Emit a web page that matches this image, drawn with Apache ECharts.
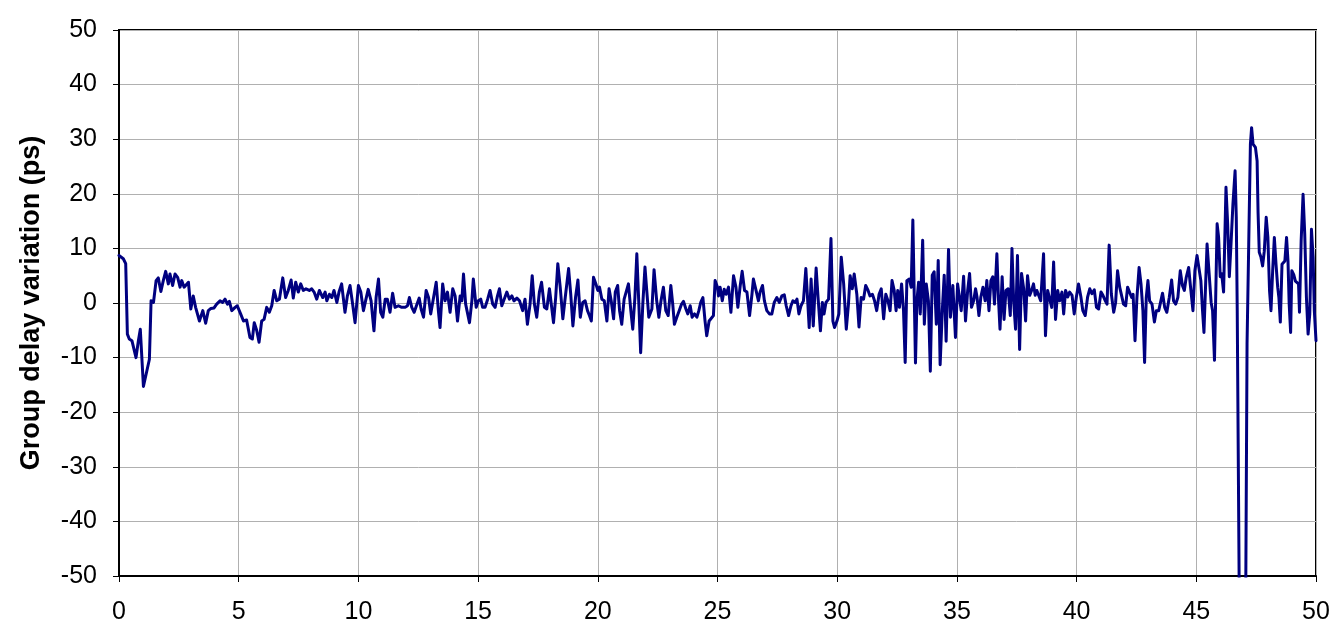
<!DOCTYPE html>
<html>
<head>
<meta charset="utf-8">
<script src="https://cdn.jsdelivr.net/npm/echarts@6/dist/echarts.min.js"></script>
<style>html,body{margin:0;padding:0;background:#fff}#c{width:1341px;height:639px}</style>
</head>
<body>
<div id="c"></div>
<script>
const xTicks = [0,5,10,15,20,25,30,35,40,45,50];
const yTicks = [-50,-40,-30,-20,-10,0,10,20,30,40,50];
const yAxisTitle = 'Group delay variation (ps)';

const dist = [
0,0.18,0.28,0.35,0.43,0.54,0.71,0.81,0.89,1.02,1.16,1.27,1.34,1.44,1.55,1.64,1.75,1.85,1.95,2.06,2.13,2.24,2.34,2.45,2.55,2.62,2.72,2.8,2.9,3.0,3.1,3.2,3.36,3.5,3.62,3.73,3.84,3.97,4.08,4.22,4.33,4.43,4.53,4.61,4.71,4.85,4.94,5.08,5.2,5.33,5.47,5.57,5.65,5.75,5.85,5.96,6.06,6.17,6.28,6.38,6.48,6.59,6.7,6.84,6.96,7.07,7.19,7.28,7.38,7.49,7.59,7.7,7.81,7.95,8.05,8.15,8.26,8.37,
8.4,8.51,8.61,8.68,8.79,8.89,8.98,9.1,9.19,9.3,9.44,9.54,9.65,9.75,9.86,10.0,10.1,10.21,10.3,10.41,10.53,10.65,10.74,10.84,10.93,11.02,11.12,11.21,11.32,11.43,11.53,11.67,11.81,11.95,12.05,12.13,12.23,12.33,12.45,12.54,12.62,12.72,12.83,12.93,13.02,13.14,13.25,13.34,13.41,13.52,13.62,13.72,13.83,13.94,14.04,14.14,14.25,14.32,14.39,14.48,14.55,14.64,14.74,14.8,14.92,15.01,15.11,15.19,15.29,15.4,15.5,15.61,15.71,15.81,15.89,15.99,16.09,16.2,16.31,16.41,16.5,16.62,16.73,
16.86,16.96,17.06,17.17,17.26,17.35,17.45,17.56,17.65,17.77,17.87,17.98,18.05,18.15,18.24,18.33,18.43,18.54,18.64,18.78,18.87,18.96,19.07,19.17,19.27,19.37,19.47,19.57,19.65,19.73,19.82,19.92,20.0,20.07,20.17,20.27,20.38,20.47,20.56,20.66,20.73,20.83,20.91,21.0,21.1,21.18,21.28,21.38,21.46,21.55,21.63,21.72,21.79,21.88,21.97,22.05,22.13,22.26,22.35,22.46,22.55,22.64,22.74,22.84,22.94,23.05,23.13,23.2,23.3,23.4,23.5,23.58,23.68,23.76,23.86,23.94,24.04,24.14,24.22,24.3,24.39,24.48,24.55,24.65,24.73,24.83,24.9,25.0,
25.04,25.11,25.2,25.28,25.36,25.46,25.56,25.67,25.77,25.85,25.95,26.03,26.13,26.23,26.34,26.44,26.5,26.61,26.71,26.78,26.88,26.96,27.06,27.17,27.27,27.37,27.48,27.58,27.69,27.79,27.87,27.97,28.07,28.15,28.25,28.32,28.4,28.49,28.59,28.69,28.76,28.83,28.91,29.0,29.12,29.21,29.3,29.38,29.45,29.53,29.64,29.74,29.82,29.89,29.99,30.07,30.17,30.27,30.38,30.47,30.54,30.63,30.71,30.82,30.91,31.0,31.1,31.19,31.29,31.37,31.47,31.56,31.65,31.75,31.84,31.94,32.03,32.12,32.21,32.29,32.38,32.46,32.53,32.6,32.69,32.77,32.84,32.91,33.01,33.09,33.16,33.27,
33.33,33.4,33.47,33.57,33.64,33.72,33.81,33.89,33.97,34.05,34.14,34.22,34.3,34.39,34.47,34.55,34.65,34.73,34.83,34.94,35.03,35.11,35.18,35.28,35.36,35.45,35.53,35.61,35.7,35.78,35.84,35.92,36.0,36.09,36.18,36.25,36.34,36.42,36.5,36.57,36.67,36.74,36.8,36.89,36.97,37.05,37.14,37.23,37.3,37.37,37.45,37.53,37.62,37.7,37.79,37.87,37.95,38.04,38.12,38.2,38.27,38.34,38.42,38.5,38.62,38.7,38.79,38.87,38.96,39.04,39.12,39.21,39.29,39.39,39.46,39.54,39.63,39.71,39.81,39.9,39.99,40.08,40.18,40.26,40.36,40.46,40.55,40.64,40.74,40.83,40.92,41.02,41.1,41.2,41.27,41.36,41.45,
41.55,41.63,41.71,41.8,41.88,41.96,42.05,42.13,42.21,42.3,42.36,42.44,42.52,42.61,42.69,42.77,42.84,42.91,42.98,43.05,43.15,43.25,43.33,43.43,43.52,43.59,43.68,43.77,43.87,43.97,44.05,44.14,44.23,44.33,44.42,44.5,44.58,44.68,44.76,44.86,44.94,45.03,45.11,45.19,45.26,45.32,45.39,45.45,45.53,45.62,45.68,45.76,45.81,45.87,45.93,46.0,46.06,46.14,46.24,46.31,46.38,46.45,46.53,46.62,46.67,46.71,46.95,47.12,47.19,47.26,47.31,47.37,47.47,47.54,47.58,47.63,47.7,47.77,47.84,47.92,47.99,48.06,48.12,48.19,48.26,48.33,48.4,48.45,48.51,48.58,48.65,48.7,48.77,48.83,48.88,48.94,48.99,49.07,49.14,49.2,49.27,49.31,49.38,49.46,49.53,49.6,49.67,49.74,49.81,49.88,49.93,50.0
];

const gdv = [
8.7,8.1,7.2,-5.7,-6.6,-6.9,-10.0,-6.9,-4.8,-15.3,-12.5,-10.3,0.4,0.1,4.1,4.6,2.1,4.1,5.8,3.5,5.3,3.2,5.3,4.7,2.9,4.1,2.9,3.2,3.8,-1.1,1.3,-0.8,-3.3,-1.4,-3.7,-1.4,-1.0,-0.9,-0.2,0.4,0.1,0.7,-0.2,0.3,-1.4,-0.8,-0.5,-2.0,-3.3,-3.1,-6.3,-6.6,-3.6,-5.0,-7.2,-3.3,-3.0,-0.8,-1.7,-0.5,2.3,0.4,0.7,4.6,1.0,2.3,4.2,0.9,3.8,2.0,3.5,2.3,2.6,2.3,2.6,2.0,0.7,2.3,
2.0,1.0,2.0,0.4,1.6,1.0,2.3,0.1,2.0,3.5,-1.7,1.3,3.2,0.1,-3.6,3.2,2.0,-1.4,0.4,2.5,0.4,-5.1,1.0,4.4,-1.7,-2.6,0.7,0.7,-1.7,1.8,-0.8,-0.5,-0.8,-0.8,-0.5,1.0,-0.8,-1.7,-0.2,0.9,-1.1,-2.6,2.3,1.0,-2.0,1.0,3.8,-1.4,-4.5,3.5,0.4,2.0,-1.7,2.6,1.3,-3.3,1.3,0.4,5.3,-0.2,0.1,-3.6,0.4,4.4,-0.8,0.4,0.7,-0.8,-0.8,0.7,2.3,-0.2,-0.8,1.3,2.6,-0.5,0.7,2.0,0.7,1.3,0.4,0.9,0.4,
-1.4,0.7,-3.9,-0.2,5.0,-0.2,-2.6,2.0,3.8,-0.8,-1.1,2.6,2.9,-3.6,1.0,7.2,2.9,-2.9,1.0,6.3,1.6,-4.2,1.0,4.2,-2.6,0.1,0.4,-1.4,-2.3,-3.3,4.7,3.5,2.3,2.9,0.7,0.4,-3.3,2.6,0.4,-2.9,2.0,3.2,-1.4,-3.9,0.7,0.4,3.5,-1.4,-4.8,1.0,9.0,-0.8,-9.1,-0.2,6.6,2.0,-2.6,-1.1,6.1,0.4,-2.6,0.4,2.9,-1.4,-2.3,3.2,-0.2,-3.9,-2.6,-1.4,-0.2,0.3,-1.1,-2.0,-0.5,-2.6,-2.0,-2.6,-1.4,0.1,1.0,-3.3,-6.0,-3.3,-3.0,-2.3,4.1,2.9,
1.3,2.9,0.4,2.5,1.6,2.9,-1.7,5.0,2.9,-0.8,3.2,5.8,2.3,2.0,-2.3,1.6,4.4,2.3,0.4,2.0,3.2,0.4,-1.4,-2.0,-2.0,0.1,1.0,0.1,1.3,1.5,-0.5,-2.3,-0.5,0.4,0.1,0.7,-2.0,-0.5,0.4,6.3,1.0,-4.5,4.4,-4.2,6.4,0.4,-5.1,0.1,-2.0,0.1,0.7,11.8,-3.3,-4.5,-3.3,-2.0,8.4,3.5,-4.8,-0.2,5.0,2.6,5.3,1.6,-4.4,1.0,0.7,3.2,2.3,1.3,1.6,0.4,-1.4,1.6,2.6,-2.9,1.6,0.4,-1.4,4.1,2.3,-1.4,2.3,-0.8,3.5,-1.4,-10.9,4.1,4.4,2.9,15.2,-11.0,
0.4,3.8,-2.0,11.5,-3.9,3.5,0.4,-12.5,5.1,5.7,-3.9,7.8,-11.3,-1.4,5.1,-7.0,9.8,-2.6,3.2,-6.3,3.5,3.8,-1.4,4.9,-3.3,2.3,5.4,-0.8,0.4,2.6,1.1,-2.3,1.1,2.9,0.4,4.1,-1.4,4.1,4.8,-0.2,9.0,0.4,-4.8,4.8,-3.0,2.3,2.6,-2.3,10.0,0.4,-4.8,8.7,-8.5,5.4,2.6,-3.3,5.0,1.4,2.3,3.5,1.4,2.3,2.0,0.4,9.0,-6.0,2.3,2.0,-0.8,7.5,-3.0,2.3,0.4,2.0,-2.0,2.3,1.1,2.0,1.4,-2.0,1.1,3.5,1.1,-1.4,-2.3,1.1,2.6,1.7,2.4,-0.8,-1.1,2.0,1.4,0.4,-0.2,10.6,1.7,
-1.7,0.1,5.9,2.9,2.9,-0.2,-0.5,2.9,2.0,1.0,1.6,-6.9,1.0,6.5,3.5,-1.4,-10.9,1.0,4.1,0.4,-0.2,-3.5,-1.4,-1.4,0.4,1.8,-0.8,-1.7,1.0,4.2,0.4,-0.2,1.0,5.9,3.2,2.3,4.7,6.5,2.9,-1.4,5.9,8.7,9.0,4.1,-1.4,-5.4,3.5,10.8,10.5,0.1,-1.4,-10.5,1.0,14.5,12.1,4.8,5.4,2.0,21.2,14.5,4.8,10.8,18.1,24.2,15.7,-1.4,-150,-7.5,10.8,29.1,32.1,29.1,28.5,26.0,16.6,9.3,8.4,6.8,9.5,15.7,12.0,2.2,-1.4,5.9,12.0,7.1,2.9,1.0,-3.5,7.1,7.1,7.7,12.0,7.7,-0.2,-5.4,5.9,5.2,4.0,3.8,3.5,-1.7,11.4,19.9,12.6,1.0,-5.7,-2.0,13.5,8.3,-1.4,-6.9
];

const seriesData = dist.map((x, i) => [x, gdv[i]]);

const chart = echarts.init(document.getElementById('c'), null, {renderer: 'canvas'});
const font = '"Liberation Sans", Arial, sans-serif';
chart.setOption({
  animation: false,
  backgroundColor: '#fff',
  grid: {left: 119, right: 25, top: 30, bottom: 63, show: true, borderColor: '#000', borderWidth: 2, containLabel: false},
  xAxis: {
    type: 'value', min: xTicks[0], max: xTicks[xTicks.length - 1], interval: 5,
    axisLine: {show: true, onZero: false, lineStyle: {color: '#000', width: 2}},
    axisTick: {show: true, inside: false, length: 6, lineStyle: {color: '#000', width: 1}},
    axisLabel: {color: '#000', fontSize: 25, fontFamily: font, margin: 24},
    splitLine: {show: true, lineStyle: {color: '#b0b0b0', width: 1}}
  },
  yAxis: {
    type: 'value', min: yTicks[0], max: yTicks[yTicks.length - 1], interval: 10,
    name: yAxisTitle, nameLocation: 'middle', nameGap: 74, nameRotate: 90,
    nameTextStyle: {color: '#000', fontSize: 27, fontWeight: 'bold', fontFamily: font},
    axisLine: {show: true, onZero: false, lineStyle: {color: '#000', width: 2}},
    axisTick: {show: true, inside: false, length: 6, lineStyle: {color: '#000', width: 1}},
    axisLabel: {color: '#000', fontSize: 25, fontFamily: font, margin: 22},
    splitLine: {show: true, lineStyle: {color: '#b0b0b0', width: 1}}
  },
  series: [{
    type: 'line', data: seriesData, showSymbol: false, symbol: 'none', clip: true,
    lineStyle: {color: '#000080', width: 3, cap: 'round', join: 'round'}, smooth: false
  }]
});
</script>
</body>
</html>
